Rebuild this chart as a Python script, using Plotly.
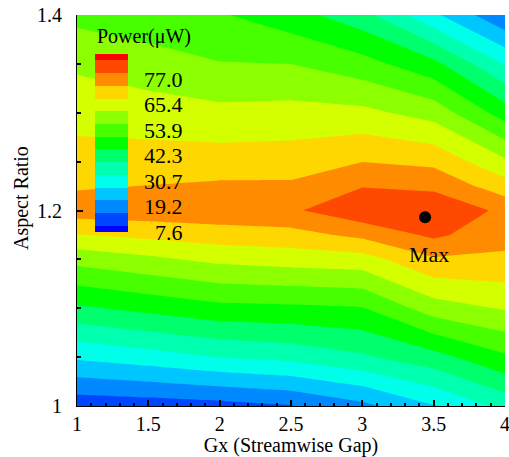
import plotly.graph_objects as go

# ---- data ----
gx = [1.0, 1.5, 2.0, 2.5, 3.0, 3.5, 4.0]
aspect_ratio = [1.0, 1.05, 1.1, 1.15, 1.175, 1.2, 1.225, 1.25, 1.3, 1.35, 1.4]
power_ar_100 = [12.4, 13.2, 14.2, 16.0, 20.5, 27.5, 35.5]
power_ar_105 = [28.8, 31.0, 33.8, 35.3, 38.5, 43.0, 50.0]
power_ar_110 = [44.2, 46.8, 49.3, 49.8, 50.6, 59.7, 63.0]
power_ar_115 = [58.7, 61.3, 63.9, 65.0, 65.8, 73.3, 73.0]
power_ar_1175 = [68.0, 69.7, 71.3, 72.0, 75.5, 81.0, 76.0]
power_ar_120 = [77.0, 77.5, 78.0, 79.0, 84.0, 84.5, 78.5]
power_ar_1225 = [73.4, 74.2, 75.0, 75.0, 79.6, 78.5, 70.8]
power_ar_125 = [70.8, 71.0, 71.0, 71.2, 74.0, 72.7, 63.6]
power_ar_130 = [66.0, 65.0, 64.0, 64.5, 64.0, 60.2, 48.2]
power_ar_135 = [61.5, 59.5, 57.0, 56.7, 53.2, 46.8, 33.3]
power_ar_140 = [55.0, 53.0, 51.5, 47.5, 41.5, 29.0, 17.0]

legend_levels = [7.6, 19.16, 30.72, 42.28, 53.84, 65.4, 76.96]
legend_labels = ["7.6", "19.2", "30.7", "42.3", "53.9", "65.4", "77.0"]
level_step = 5.78

max_gx = [3.44]
max_ar = [1.193]

band_colors = ["#0000FF", "#0046FF", "#0088FF", "#00C6FF", "#00FFEA",
               "#00FFAF", "#00FF6C", "#00FF00", "#48FF00", "#8CFF00",
               "#D4FF00", "#FFD700", "#FF8C00", "#FF4800", "#FF0000"]

z = [power_ar_100, power_ar_105, power_ar_110, power_ar_115, power_ar_1175,
     power_ar_120, power_ar_1225, power_ar_125, power_ar_130, power_ar_135,
     power_ar_140]

# stepped colour scale for the contour fills (14 segments, top one split -> red)
n = len(band_colors) - 1
cscale = []
for i in range(n):
    lo = i / n
    hi = (i + 1) / n
    if i == n - 1:
        hi = 0.999
    cscale.append([lo, band_colors[i]])
    cscale.append([hi, band_colors[i]])
cscale.append([0.999, band_colors[-1]])
cscale.append([1.0, band_colors[-1]])

start = legend_levels[0] + level_step / 2
end = start + (n - 1) * level_step

# stepped colour scale for the legend: centres at level values, half bands at ends
cmin = legend_levels[0]
cmax = legend_levels[0] + n * level_step
leg_scale = []
edges = [0.0] + [(k + 0.5) / n for k in range(n)] + [1.0]
for i, col in enumerate(band_colors):
    leg_scale.append([edges[i], col])
    leg_scale.append([edges[i + 1], col])

FONT = "Liberation Serif"
fs = 20
W, H = 509, 457
L, R, T, B = 77, 4, 15, 51
pw, ph = W - L - R, H - T - B


def px_x(px):
    return (px - L) / pw


def px_y(py):
    return (H - B - py) / ph


fig = go.Figure()
fig.add_trace(go.Contour(
    x=gx, y=aspect_ratio, z=z,
    autocontour=False,
    contours=dict(start=start, end=end, size=level_step, coloring="fill",
                  showlines=False),
    line=dict(width=0, smoothing=0),
    colorscale=cscale,
    showscale=False,
    hoverinfo="skip",
))

fig.add_trace(go.Scatter(
    x=max_gx, y=max_ar, mode="markers",
    marker=dict(color="black", size=12),
    showlegend=False, hoverinfo="skip",
))

# legend (colour bar) carried by an empty scatter trace
fig.add_trace(go.Scatter(
    x=[None], y=[None], mode="markers", showlegend=False, hoverinfo="skip",
    marker=dict(
        color=[cmin], cmin=cmin, cmax=cmax, colorscale=leg_scale, showscale=True,
        colorbar=dict(
            xref="container", yref="container",
            x=95 / W, xanchor="left",
            y=1 - 63 / H, yanchor="top",
            lenmode="pixels", len=178,
            thickness=33, thicknessmode="pixels",
            xpad=0, ypad=0,
            outlinewidth=0,
            tickvals=legend_levels,
            ticktext=["\u2007" + t if len(t) == 3 else t for t in legend_labels],
            ticks="outside", ticklen=12, tickcolor="rgba(0,0,0,0)",
            tickfont=dict(family=FONT, size=22, color="black"),
            bgcolor="rgba(0,0,0,0)",
        ),
    ),
))

fig.add_annotation(x=max_gx[0] + 0.03, y=max_ar[0] - 0.038, text="Max",
                   showarrow=False,
                   font=dict(family=FONT, size=22, color="black"))
fig.add_annotation(xref="paper", yref="paper", x=px_x(95), y=px_y(37),
                   xanchor="left", yanchor="middle", text="Power(μW)",
                   showarrow=False, font=dict(family=FONT, size=20, color="black"))
fig.add_annotation(xref="paper", yref="paper", x=px_x(22), y=px_y(198),
                   xanchor="center", yanchor="middle", text="Aspect Ratio",
                   textangle=-90, showarrow=False,
                   font=dict(family=FONT, size=fs, color="black"))

fig.update_layout(
    width=W, height=H,
    margin=dict(l=L, r=R, t=T, b=B, autoexpand=False),
    paper_bgcolor="white", plot_bgcolor="white",
    font=dict(family=FONT, size=fs, color="black"),
    showlegend=False,
)
fig.update_xaxes(
    range=[1, 4], dtick=0.5, tick0=1,
    ticks="inside", ticklen=6, tickwidth=2, tickcolor="black",
    minor=dict(dtick=0.1, ticks="inside", ticklen=3, tickwidth=1.5, tickcolor="black"),
    showline=True, linecolor="black", linewidth=1,
    showgrid=False, zeroline=False,
    ticklabeloverflow="allow",
    title=dict(text="Gx (Streamwise Gap)", standoff=9,
               font=dict(family=FONT, size=fs)),
    tickfont=dict(family=FONT, size=fs),
)
fig.update_yaxes(
    range=[1, 1.4], dtick=0.2, tick0=1,
    ticks="inside", ticklen=6, tickwidth=2, tickcolor="black",
    minor=dict(dtick=0.05, ticks="inside", ticklen=4, tickwidth=1.5, tickcolor="black"),
    showline=True, linecolor="black", linewidth=1,
    showgrid=False, zeroline=False,
    ticklabelstandoff=10,
    ticklabeloverflow="allow",
    tickfont=dict(family=FONT, size=fs),
)

fig.write_html("out.html", config={"displayModeBar": False},
               post_script="document.body.style.margin='0';")
